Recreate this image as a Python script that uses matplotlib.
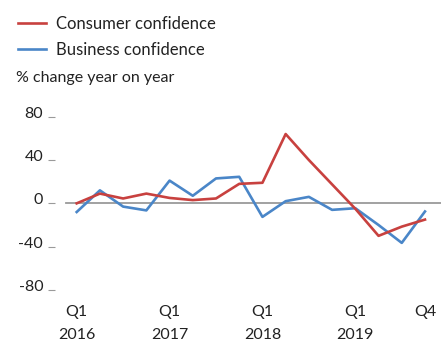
import matplotlib
matplotlib.use("Agg")
import matplotlib.pyplot as plt
from matplotlib.transforms import ScaledTranslation

plt.rcParams['font.family'] = ['Lato', 'DejaVu Sans']

# quarterly, Q1 2016 .. Q4 2019
quarters = list(range(16))
consumer = [0, 9, 4.5, 9, 5, 3, 4.5, 18, 19, 64, 40, 17.5, -5, -30, -21.5, -15]
business = [-8, 12, -3, -6.5, 21, 7, 23, 24.5, -12.5, 2, 6, -6, -4.5, -20, -36.5, -7.5]

xtick_pos = [0, 4, 8, 12, 15]
xtick_labels = ['Q1\n2016', 'Q1\n2017', 'Q1\n2018', 'Q1\n2019', 'Q4']
yticks = [-80, -40, 0, 40, 80]

red = '#c8413f'
blue = '#4a86c8'
txt = '#222222'

W, H = 441, 339
fig = plt.figure(figsize=(W / 100, H / 100), dpi=100)
ax = fig.add_axes([55 / W, 49 / H, (W - 55) / W, 173.3 / H])

ax.axhline(0, xmin=11 / 386, xmax=1, color='#9a9a9a', lw=1.3, zorder=1)
l1, = ax.plot(quarters, consumer, color=red, lw=1.9, label='Consumer confidence', zorder=3)
l2, = ax.plot(quarters, business, color=blue, lw=1.9, label='Business confidence', zorder=2)

ax.set_xlim(-0.934, 15.69)
ax.set_ylim(-80, 80)
for s in ax.spines.values():
    s.set_visible(False)

ax.set_yticks(yticks)
ax.set_yticklabels([str(v) for v in yticks], fontsize=11.5, color=txt)
ax.tick_params(axis='y', length=5, width=0.8, color='#9a9a9a', pad=3.5)
for lab in ax.get_yticklabels():
    lab.set_transform(lab.get_transform() + ScaledTranslation(0, 4.5 / 100, fig.dpi_scale_trans))

ax.set_xticks(xtick_pos)
ax.set_xticklabels(xtick_labels, fontsize=11.5, color=txt, linespacing=1.8)
ax.tick_params(axis='x', length=0, pad=11)

fig.legend(handles=[l1, l2], loc='upper left', bbox_to_anchor=(3 / W, 1 - 1 / H),
           frameon=False, fontsize=12, handlelength=1.7, handletextpad=0.6,
           labelspacing=0.6, labelcolor=txt)

fig.text(16 / W, 1 - 78 / H, '% change year on year', fontsize=11.5, color=txt,
         ha='left', va='center')

fig.savefig('out.png', dpi=100)
